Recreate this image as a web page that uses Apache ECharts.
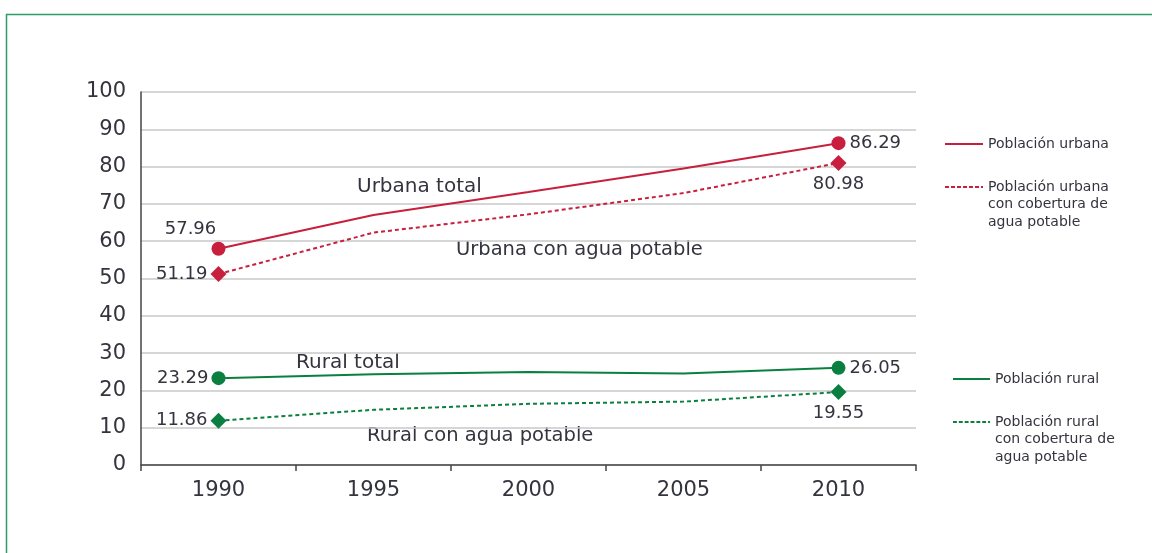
<!DOCTYPE html>
<html>
<head>
<meta charset="utf-8">
<script src="https://cdn.jsdelivr.net/npm/echarts@6/dist/echarts.min.js"></script>
<style>
  html, body { margin: 0; padding: 0; background: #fff; }
  #chart { width: 1152px; height: 553px; }
</style>
</head>
<body>
<div id="chart"></div>
<script>
// datos
const years = ['1990', '1995', '2000', '2005', '2010'];
const urbanaTotal = [57.96, 67.0, 73.2, 79.5, 86.29];
const urbanaAgua = [51.19, 62.3, 67.2, 72.9, 80.98];
const ruralTotal = [23.29, 24.3, 24.9, 24.5, 26.05];
const ruralAgua = [11.86, 14.8, 16.4, 17.0, 19.55];
const yTicks = { min: 0, max: 100, interval: 10 };

const rojo = '#c71f3d';
const verde = '#0b7f3f';
const texto = '#34343f';
const fuente = 'DejaVu Sans';

const lineaSolida = 'path://M0,0H38V2H0Z';
const lineaPunteada = 'path://M0,0H4V2H0Z M6,0H10V2H6Z M12,0H16V2H12Z M18,0H22V2H18Z M24,0H28V2H24Z M30,0H34V2H30Z M36,0H38V2H36Z';

// solo se marcan los extremos (1990 y 2010)
function puntos(values, symbol, size, posIni, posFin) {
  return values.map((v, i) => {
    if (i === 0) return { value: v, symbol: symbol, symbolSize: size, label: posIni };
    if (i === values.length - 1) return { value: v, symbol: symbol, symbolSize: size, label: posFin };
    return { value: v, symbol: 'none', label: { show: false } };
  });
}

function serie(name, values, color, dashed, symbol, size, posIni, posFin) {
  return {
    name: name,
    type: 'line',
    data: puntos(values, symbol, size, posIni, posFin),
    color: color,
    lineStyle: { color: color, width: 2, type: dashed ? [4, 3] : 'solid' },
    itemStyle: { color: color },
    label: {
      show: true,
      color: texto,
      fontFamily: fuente,
      fontSize: 18
    },
    emphasis: { disabled: true },
    z: 3
  };
}

// la leyenda solo muestra la primera línea; el resto va como texto aparte
function leyenda(name, primera, icon, left, cy, width) {
  return {
    data: [{ name: name, icon: icon }],
    formatter: () => primera,
    left: left,
    top: cy - 6,
    itemWidth: width,
    itemHeight: 2,
    itemGap: 5,
    padding: 0,
    selectedMode: false,
    textStyle: { fontFamily: fuente, fontSize: 14, color: texto }
  };
}

function nota(text, x, y, size) {
  return {
    type: 'text',
    x: x,
    y: y,
    silent: true,
    style: {
      text: text,
      fontFamily: fuente,
      fontSize: size,
      fill: texto,
      align: 'left',
      verticalAlign: 'middle'
    }
  };
}

const chart = echarts.init(document.getElementById('chart'));
chart.setOption({
  animation: false,
  grid: { left: 141, right: 236, top: 92, bottom: 88 },
  xAxis: {
    type: 'category',
    data: years,
    boundaryGap: true,
    axisLine: { lineStyle: { color: '#444', width: 1.5 } },
    axisTick: { show: true, length: 6, lineStyle: { color: '#444', width: 1.5 } },
    axisLabel: { color: texto, fontFamily: fuente, fontSize: 21, margin: 15 },
    splitLine: { show: false }
  },
  yAxis: {
    type: 'value',
    min: yTicks.min,
    max: yTicks.max,
    interval: yTicks.interval,
    axisLine: { show: true, lineStyle: { color: '#444', width: 1.5 } },
    axisTick: { show: false },
    axisLabel: { color: texto, fontFamily: fuente, fontSize: 21, margin: 15 },
    splitLine: { lineStyle: { color: '#c9c9c9', width: 1.5 } }
  },
  legend: [
    leyenda('Población urbana', 'Población urbana', lineaSolida, 945, 143, 38),
    leyenda('Población urbana con cobertura de agua potable', 'Población urbana', lineaPunteada, 945, 186, 38),
    leyenda('Población rural', 'Población rural', lineaSolida, 953, 378, 37),
    leyenda('Población rural con cobertura de agua potable', 'Población rural', lineaPunteada, 953, 421, 37)
  ],
  series: [
    serie('Población urbana', urbanaTotal, rojo, false, 'circle', 14,
      { show: true, position: 'top', offset: [-28, 2] },
      { show: true, position: 'right', distance: 4 }),
    serie('Población urbana con cobertura de agua potable', urbanaAgua, rojo, true, 'diamond', 16,
      { show: true, position: 'left', distance: 3 },
      { show: true, position: 'bottom', distance: 4 }),
    serie('Población rural', ruralTotal, verde, false, 'circle', 14,
      { show: true, position: 'left', distance: 3 },
      { show: true, position: 'right', distance: 4 }),
    serie('Población rural con cobertura de agua potable', ruralAgua, verde, true, 'diamond', 16,
      { show: true, position: 'left', distance: 3 },
      { show: true, position: 'bottom', distance: 4 })
  ],
  graphic: [
    {
      type: 'rect',
      silent: true,
      shape: { x: 6.5, y: 14.5, width: 1200, height: 600 },
      style: { fill: 'none', stroke: '#2f9d63', lineWidth: 1.5 }
    },
    nota('Urbana total', 357, 187, 20),
    nota('Urbana con agua potable', 456, 250, 19.5),
    nota('Rural total', 296, 363, 20),
    nota('Rural con agua potable', 367, 436, 19.5),
    nota('con cobertura de', 988, 204, 14),
    nota('agua potable', 988, 222, 14),
    nota('con cobertura de', 995, 439, 14),
    nota('agua potable', 995, 457, 14)
  ]
});
</script>
</body>
</html>
